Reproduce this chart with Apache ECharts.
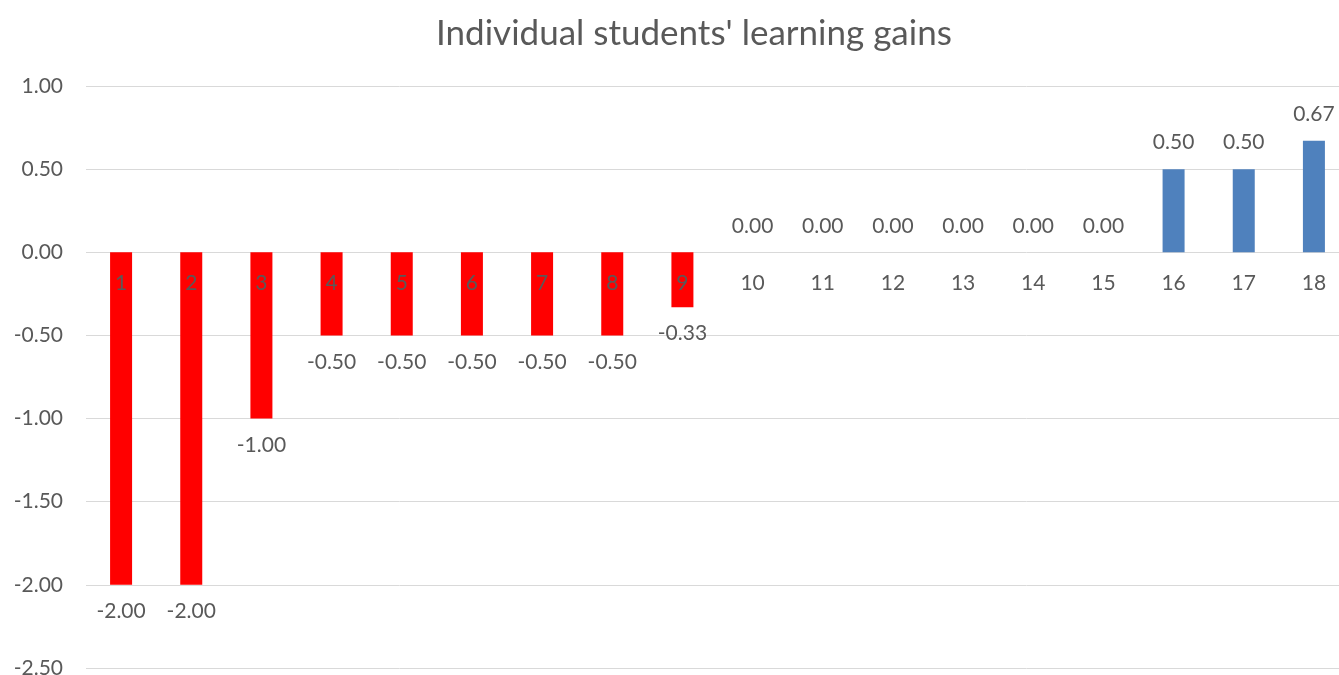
<!DOCTYPE html>
<html>
<head>
<meta charset="utf-8">
<script src="https://cdn.jsdelivr.net/npm/echarts@6/dist/echarts.min.js"></script>
<style>html,body{margin:0;padding:0;background:#fff;}#c{width:1339px;height:675px;}</style>
</head>
<body>
<div id="c"></div>
<script>
const categories = ['1','2','3','4','5','6','7','8','9','10','11','12','13','14','15','16','17','18'];
const gains = [-2.00,-2.00,-1.00,-0.50,-0.50,-0.50,-0.50,-0.50,-0.33,0.00,0.00,0.00,0.00,0.00,0.00,0.50,0.50,0.67];
const yTicks = {min:-2.5, max:1.0, interval:0.5};

const FONT = 'Lato, "Open Sans", sans-serif';
const TXT = '#595959';
const chart = echarts.init(document.getElementById('c'));
chart.setOption({
  animation:false,
  title:{text:"Individual students' learning gains", left:431, top:11,
    textStyle:{fontFamily:FONT, fontSize:35, fontWeight:'normal', color:TXT}},
  grid:{left:86, top:86, width:1263, bottom:7, containLabel:false, outerBoundsMode:'none'},
  xAxis:{type:'category', data:categories,
    axisLine:{show:false}, axisTick:{show:false}, axisLabel:{show:false}},
  yAxis:{type:'value', min:yTicks.min, max:yTicks.max, interval:yTicks.interval,
    axisLine:{show:false}, axisTick:{show:false},
    splitLine:{lineStyle:{color:'#D9D9D9', width:1}},
    axisLabel:{color:TXT, fontFamily:FONT, fontSize:21, margin:23, formatter:v=>v.toFixed(2)}},
  series:[
    {type:'bar', barWidth:22, z:2,
      data:gains.map(v=>({value:v,
        itemStyle:{color: v<0 ? '#FF0000' : '#4F81BD'},
        label:{position: v<0 ? 'bottom' : 'top'}})),
      label:{show:true, distance:16, color:TXT, fontFamily:FONT, fontSize:21,
        formatter:p=>p.value.toFixed(2)}},
    {type:'scatter', z:5, symbolSize:0, silent:true, itemStyle:{opacity:1},
      data:categories.map(c=>[c,0]),
      label:{show:true, position:'bottom', distance:20, color:TXT, fontFamily:FONT, fontSize:21,
        formatter:p=>p.value[0]}}
  ]
});
</script>
</body>
</html>
